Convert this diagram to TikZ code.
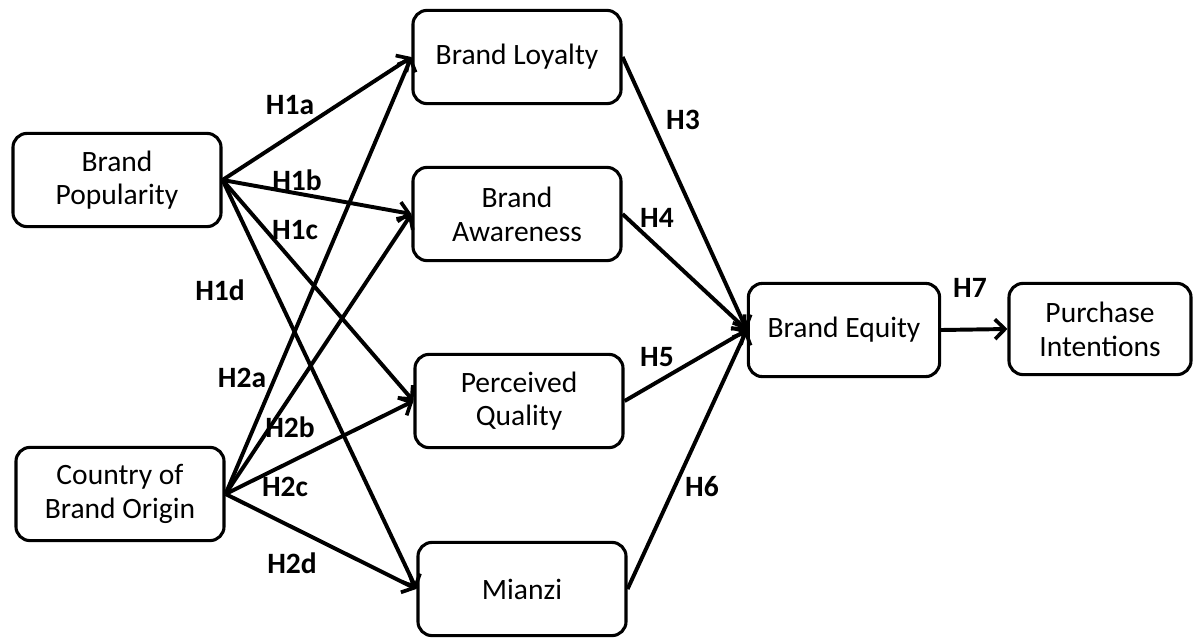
\documentclass[tikz,border=0pt]{standalone}
\usepackage{fontspec}
\setmainfont{Carlito}
\usetikzlibrary{arrows.meta}
\newcommand{\BoxFont}{\fontsize{21}{24}\selectfont}
\tikzset{
  fact/.style={draw, line width=2.2pt, rounded corners=10pt, align=center,
    font=\BoxFont, minimum width=5.2cm, minimum height=2.33cm, inner sep=2pt},
  hyp/.style={font=\BoxFont\bfseries, inner sep=1pt},
  link/.style={line width=2.8pt, -{Straight Barb[length=7pt,width=14pt,line width=2.6pt]}}
}

\begin{document}
\begin{tikzpicture}[x=0.025cm, y=-0.025cm]
    \useasboundingbox (0,0) rectangle (1193,639);
    % constructs
    \node[fact] (Pop) at (117,180) {Brand\\Popularity};
    \node[fact] (Coo) at (120,494) {Country of\\Brand Origin};
    \node[fact] (Loy) at (517,57) {Brand Loyalty};
    \node[fact] (Awa) at (517,214) {Brand\\Awareness};
    \node[fact] (Qual) at (519,401) {Perceived\\Quality};
    \node[fact] (Mian) at (522,589) {Mianzi};
    \node[fact, minimum width=4.78cm] (Equ) at (844,330) {Brand Equity};
    \node[fact, minimum width=4.55cm, minimum height=2.28cm] (Pur) at (1100,329) {Purchase\\Intentions};
    % paths
    \draw[link] (Pop.east) -- (Loy.west);
    \draw[link] (Pop.east) -- (Awa.west);
    \draw[link] (Pop.east) -- (Qual.west);
    \draw[link] (Pop.east) -- (Mian.west);
    \draw[link] (Coo.east) -- (Loy.west);
    \draw[link] (Coo.east) -- (Awa.west);
    \draw[link] (Coo.east) -- (Qual.west);
    \draw[link] (Coo.east) -- (Mian.west);
    \draw[link] (Loy.east) -- (Equ.west);
    \draw[link] (Awa.east) -- (Equ.west);
    \draw[link] (Qual.east) -- (Equ.west);
    \draw[link] (Mian.east) -- (Equ.west);
    \draw[link] (Equ.east) -- (Pur.west);
    % hypotheses
    \node[hyp] (H1a) at (290,105) {H1a};
    \node[hyp] (H1b) at (297,180) {H1b};
    \node[hyp] (H1c) at (295,230) {H1c};
    \node[hyp] (H1d) at (220,290) {H1d};
    \node[hyp] (H2a) at (242,378) {H2a};
    \node[hyp] (H2b) at (290,427) {H2b};
    \node[hyp] (H2c) at (285,487) {H2c};
    \node[hyp] (H2d) at (292,563) {H2d};
    \node[hyp] (H3) at (683,120) {H3};
    \node[hyp] (H4) at (657,218) {H4};
    \node[hyp] (H5) at (657,357) {H5};
    \node[hyp] (H6) at (702,487) {H6};
    \node[hyp] (H7) at (970,288) {H7};
\end{tikzpicture}
\end{document}
